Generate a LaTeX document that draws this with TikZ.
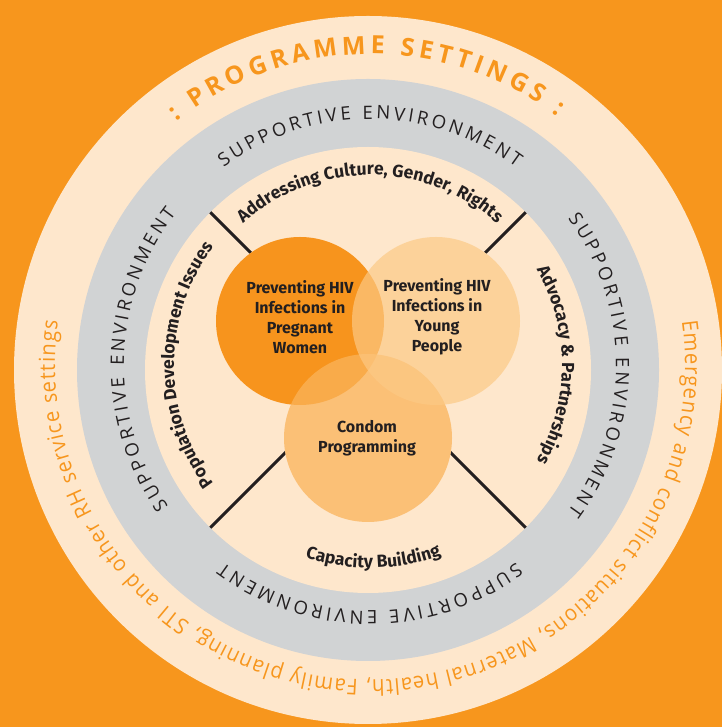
\documentclass[tikz,border=0pt]{standalone}
\usepackage{fontspec}
\setmainfont{Open Sans}
\newfontfamily\labelfont{Fira Sans}
\newfontfamily\outerfamily{Open Sans}[FakeStretch=0.92]
\usetikzlibrary{decorations.text}
\definecolor{settingorange}{RGB}{247,150,29}
\definecolor{peach}{RGB}{254,231,204}
\definecolor{envgray}{RGB}{209,211,212}
\definecolor{labeldark}{RGB}{35,31,32}
\definecolor{pregorange}{RGB}{247,148,29}
\definecolor{condomorange}{RGB}{250,179,90}
\definecolor{youngpeach}{RGB}{252,201,133}
\newcommand\settingfont{\fontsize{25bp}{25bp}\selectfont\bfseries}
\newcommand\envfont{\fontsize{18.5bp}{19bp}\selectfont}
\newcommand\outerfont{\outerfamily\fontsize{22bp}{22bp}\selectfont}
\newcommand\bandfont{\labelfont\bfseries\fontsize{17.5bp}{18bp}\selectfont}
\newcommand\circfont{\labelfont\bfseries\fontsize{16bp}{20bp}\selectfont}
\begin{document}
\begin{tikzpicture}[x=1bp,y=1bp,
  arctext/.style={decorate, decoration={text along path, #1}},
  divider/.style={draw=labeldark, line width=3bp},
  venn/.style={circle, minimum size=168bp, inner sep=0pt},
  vennlabel/.style={font=\circfont, align=center, text=labeldark}]
%%
  \path[use as bounding box, fill=settingorange] (0,0) rectangle (722,727);
  \coordinate (O) at (368,357);
  \coordinate (T) at (370,362);
  % Ring: programme settings
  \fill[peach] (O) circle[radius=354];
  % Ring: supportive environment
  \fill[envgray] (O) circle[radius=291];
  % Ring: inner band
  \fill[peach] (O) circle[radius=223];
  % Edge: dividers
  \foreach \a in {45,135,225,315} {
    \coordinate (d\a) at ([shift={(\a:223)}]O);
    \draw[divider] (d\a) -- (O);
  }
  % Node: underlay
  \foreach \c in {(300,406),(436,406),(368,289)}
    \fill[peach] \c circle[radius=84];
  % Node: Pregnant
  \node[venn, fill=pregorange] (pregnant) at (300,406) {};
  % Node: Condom
  \node[venn, fill=condomorange, fill opacity=.75] (condom) at (368,289) {};
  % Node: Young
  \node[venn, fill=youngpeach, fill opacity=.69] (young) at (436,406) {};
  \node[vennlabel] (pregnanttext) at ([yshift=4]pregnant.center) {Preventing HIV\\Infections in\\Pregnant\\Women};
  \node[vennlabel] (youngtext) at ([xshift=1,yshift=4]young.center) {Preventing HIV\\Infections in\\Young\\People};
  \node[vennlabel] (condomtext) at ([xshift=-1]condom.center) {Condom\\Programming};
  % Text: outer ring
  \path[arctext={text align=fit to path, text color=settingorange,
      text={|\settingfont|: PROGRAMME SETTINGS :}}]
    (T) ++(128.5:311) arc[start angle=128.5, end angle=53, radius=311];
  \path[arctext={text align=fit to path, text color=settingorange,
      text={|\outerfont|Emergency and conflict situations, Maternal health, Family planning, STI and other RH service settings}}]
    (T) ++(8:315) arc[start angle=8, end angle=-188, radius=315];
  % Text: gray ring
  \foreach \m in {90,178.5,0,-90}
    \path[arctext={text align=fit to path, text color=labeldark,
        text={|\envfont|SUPPORTIVE ENVIRONMENT}}]
      (T) ++(\m+36.5:246) arc[start angle=\m+36.5, end angle=\m-36.5, radius=246];
  % Text: inner band
  \path[arctext={text align=center, text color=labeldark,
      text={|\bandfont|Addressing Culture, Gender, Rights}}]
    (T) ++(145:190) arc[start angle=145, end angle=35, radius=190];
  \path[arctext={text align=center, text color=labeldark,
      text={|\bandfont|Population Development Issues}}]
    (T) ++(235:196) arc[start angle=235, end angle=125, radius=196];
  \path[arctext={text align=center, text color=labeldark,
      text={|\bandfont|Advocacy {\&} Partnerships}}]
    (T) ++(55:192) arc[start angle=55, end angle=-55, radius=192];
  \path[arctext={text align=center, text color=labeldark,
      text={|\bandfont|Capacity Building}}]
    (T) ++(216:203) arc[start angle=216, end angle=326, radius=203];
%
\end{tikzpicture}
\end{document}
